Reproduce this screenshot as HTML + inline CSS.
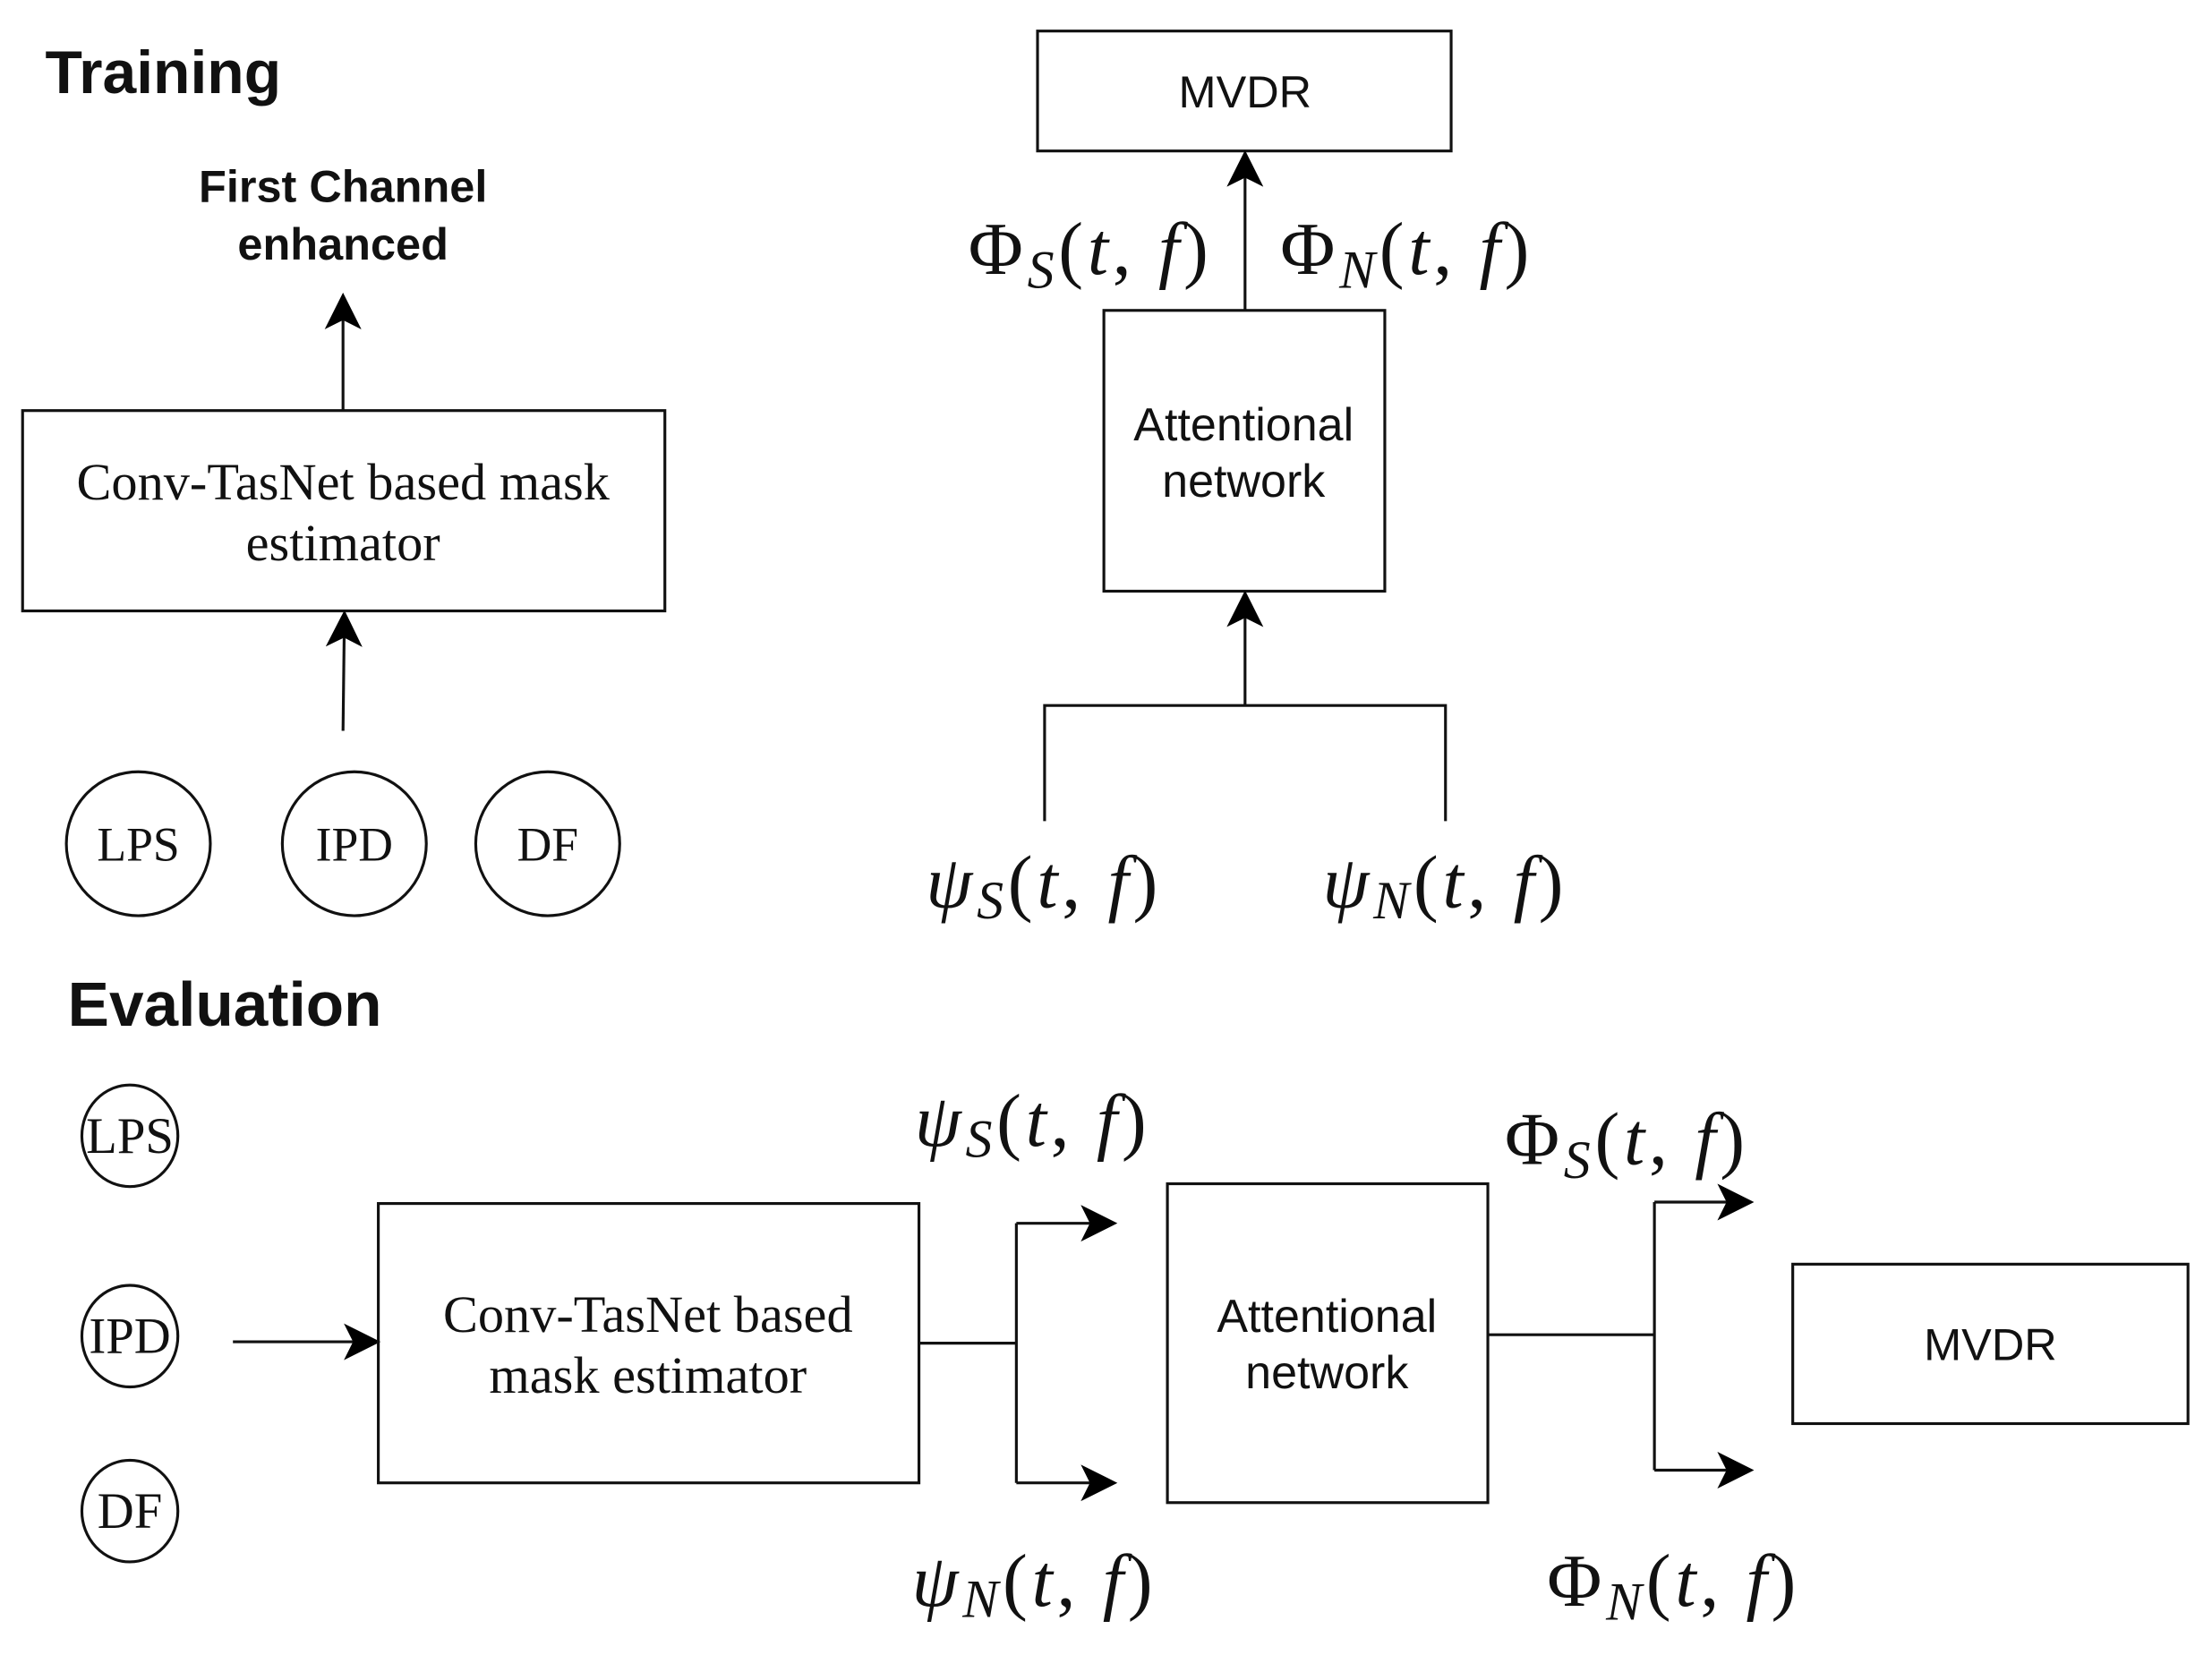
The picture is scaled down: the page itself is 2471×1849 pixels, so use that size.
<!DOCTYPE html>
<html><head><meta charset="utf-8"><style>
html,body{margin:0;padding:0;background:#fff;}
svg{display:block;}
.sans{font-family:"Liberation Sans",sans-serif;}
.serif{font-family:"Liberation Serif",serif;}
.m{font-family:"Liberation Serif",serif;font-size:53px;letter-spacing:3px;}
</style></head><body>
<svg width="2471" height="1849" viewBox="0 0 1567 1173" preserveAspectRatio="none" xmlns="http://www.w3.org/2000/svg">
<defs>
<marker id="b" viewBox="0 0 10 10" refX="9" refY="5" markerWidth="26" markerHeight="26" markerUnits="userSpaceOnUse" orient="auto">
<path d="M0,0 L10,5 L0,10 L2.5,5 Z" fill="#000"/>
</marker>
</defs>
<g stroke="#111" stroke-width="2" fill="none">
<rect x="16" y="291" width="455" height="142"/>
<line x1="243" y1="291" x2="243" y2="210" marker-end="url(#b)"/>
<line x1="243" y1="518" x2="244" y2="435" marker-end="url(#b)"/>
<ellipse cx="98" cy="598" rx="51" ry="51"/>
<ellipse cx="251" cy="598" rx="51" ry="51"/>
<ellipse cx="388" cy="598" rx="51" ry="51"/>
<rect x="735" y="22" width="293" height="85"/>
<rect x="782" y="220" width="199" height="199"/>
<line x1="882" y1="220" x2="882" y2="109" marker-end="url(#b)"/>
<line x1="882" y1="500" x2="882" y2="421" marker-end="url(#b)"/>
<polyline points="740,582 740,500 1024,500 1024,582"/>
<ellipse cx="92" cy="805" rx="34" ry="36"/>
<ellipse cx="92" cy="947" rx="34" ry="36"/>
<ellipse cx="92" cy="1071" rx="34" ry="36"/>
<line x1="165" y1="951" x2="267" y2="951" marker-end="url(#b)"/>
<rect x="268" y="853" width="383" height="198"/>
<line x1="651" y1="952" x2="720" y2="952"/>
<line x1="720" y1="867" x2="720" y2="1051"/>
<line x1="720" y1="867" x2="789" y2="867" marker-end="url(#b)"/>
<line x1="720" y1="1051" x2="789" y2="1051" marker-end="url(#b)"/>
<rect x="827" y="839" width="227" height="226"/>
<line x1="1054" y1="946" x2="1172" y2="946"/>
<line x1="1172" y1="852" x2="1172" y2="1042"/>
<line x1="1172" y1="852" x2="1240" y2="852" marker-end="url(#b)"/>
<line x1="1172" y1="1042" x2="1240" y2="1042" marker-end="url(#b)"/>
<rect x="1270" y="896" width="280" height="113"/>
</g>
<g fill="#111">
<text class="sans" x="32" y="66" font-size="43" font-weight="bold">Training</text>
<text class="sans" x="243" y="143" font-size="32" font-weight="bold" text-anchor="middle">First Channel</text>
<text class="sans" x="243" y="184" font-size="32" font-weight="bold" text-anchor="middle">enhanced</text>
<text class="serif" x="243" y="354" font-size="37" text-anchor="middle">Conv-TasNet based mask</text>
<text class="serif" x="243" y="397" font-size="37" text-anchor="middle">estimator</text>
<text class="serif" x="98" y="610" font-size="34" text-anchor="middle">LPS</text>
<text class="serif" x="251" y="610" font-size="34" text-anchor="middle">IPD</text>
<text class="serif" x="388" y="610" font-size="34" text-anchor="middle">DF</text>
<text class="sans" x="882" y="76" font-size="32" text-anchor="middle">MVDR</text>
<text class="sans" x="881" y="312" font-size="33" text-anchor="middle">Attentional</text>
<text class="sans" x="881" y="352" font-size="33" text-anchor="middle">network</text>
<text class="m" x="686" y="194">Φ<tspan font-style="italic" font-size="38" dy="10">S</tspan><tspan dy="-10">(</tspan><tspan font-style="italic">t</tspan>, <tspan font-style="italic">f</tspan>)</text>
<text class="m" x="907" y="194">Φ<tspan font-style="italic" font-size="38" dy="10">N</tspan><tspan dy="-10">(</tspan><tspan font-style="italic">t</tspan>, <tspan font-style="italic">f</tspan>)</text>
<text class="m" x="656" y="643"><tspan font-style="italic">ψ</tspan><tspan font-style="italic" font-size="38" dy="8">S</tspan><tspan dy="-8">(</tspan><tspan font-style="italic">t</tspan>, <tspan font-style="italic">f</tspan>)</text>
<text class="m" x="937" y="643"><tspan font-style="italic">ψ</tspan><tspan font-style="italic" font-size="38" dy="8">N</tspan><tspan dy="-8">(</tspan><tspan font-style="italic">t</tspan>, <tspan font-style="italic">f</tspan>)</text>
<text class="sans" x="48" y="727" font-size="44" font-weight="bold">Evaluation</text>
<text class="serif" x="92" y="817" font-size="36" text-anchor="middle">LPS</text>
<text class="serif" x="92" y="959" font-size="36" text-anchor="middle">IPD</text>
<text class="serif" x="92" y="1083" font-size="36" text-anchor="middle">DF</text>
<text class="serif" x="459" y="944" font-size="37" text-anchor="middle">Conv-TasNet based</text>
<text class="serif" x="459" y="987" font-size="37" text-anchor="middle">mask estimator</text>
<text class="sans" x="940" y="944" font-size="33" text-anchor="middle">Attentional</text>
<text class="sans" x="940" y="984" font-size="33" text-anchor="middle">network</text>
<text class="sans" x="1410" y="964" font-size="32" text-anchor="middle">MVDR</text>
<text class="m" x="648" y="812"><tspan font-style="italic">ψ</tspan><tspan font-style="italic" font-size="38" dy="8">S</tspan><tspan dy="-8">(</tspan><tspan font-style="italic">t</tspan>, <tspan font-style="italic">f</tspan>)</text>
<text class="m" x="646" y="1138"><tspan font-style="italic">ψ</tspan><tspan font-style="italic" font-size="38" dy="8">N</tspan><tspan dy="-8">(</tspan><tspan font-style="italic">t</tspan>, <tspan font-style="italic">f</tspan>)</text>
<text class="m" x="1066" y="825">Φ<tspan font-style="italic" font-size="38" dy="10">S</tspan><tspan dy="-10">(</tspan><tspan font-style="italic">t</tspan>, <tspan font-style="italic">f</tspan>)</text>
<text class="m" x="1096" y="1138">Φ<tspan font-style="italic" font-size="38" dy="10">N</tspan><tspan dy="-10">(</tspan><tspan font-style="italic">t</tspan>, <tspan font-style="italic">f</tspan>)</text>
</g>
</svg>
</body></html>
